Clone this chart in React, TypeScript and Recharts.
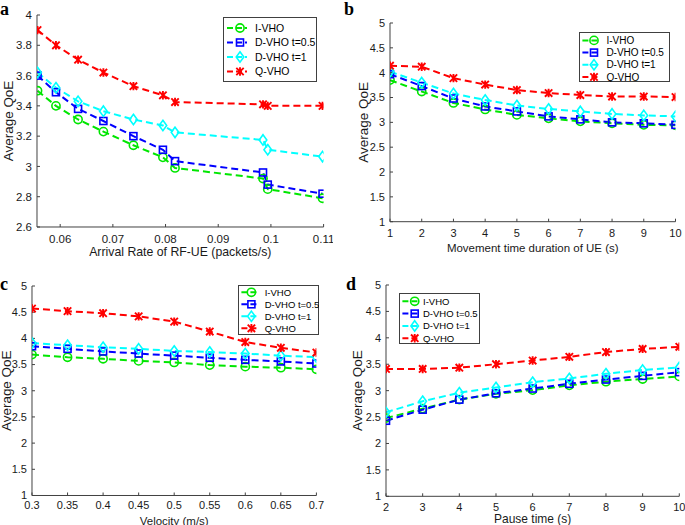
import React from "react";
import { LineChart, Line, XAxis, YAxis, Legend } from "recharts";

// (a) arrival rate of RF-UE
const arrivalRate = [0.0557, 0.0592, 0.0634, 0.0682, 0.0739, 0.0795, 0.0818, 0.0985, 0.0994, 0.1098];
const arrivalIVHO = [3.5, 3.4, 3.31, 3.23, 3.14, 3.06, 2.99, 2.92, 2.85, 2.79];
const arrivalDVHO05 = [3.6, 3.49, 3.38, 3.3, 3.2, 3.11, 3.035, 2.96, 2.88, 2.82];
const arrivalDVHO1 = [3.62, 3.52, 3.43, 3.365, 3.31, 3.27, 3.225, 3.175, 3.11, 3.065];
const arrivalQVHO = [3.9, 3.8, 3.705, 3.62, 3.53, 3.47, 3.425, 3.41, 3.4, 3.4];
const arrivalTicks = [0.06, 0.07, 0.08, 0.09, 0.1, 0.11];
const arrivalQoETicks = [2.6, 2.8, 3, 3.2, 3.4, 3.6, 3.8, 4];

// (b) movement time duration
const moveTime = [1, 2, 3, 4, 5, 6, 7, 8, 9, 10];
const moveIVHO = [3.85, 3.62, 3.39, 3.26, 3.15, 3.08, 3.02, 2.98, 2.95, 2.94];
const moveDVHO05 = [3.97, 3.73, 3.48, 3.32, 3.22, 3.12, 3.06, 3.0, 2.98, 2.95];
const moveDVHO1 = [4.02, 3.8, 3.58, 3.45, 3.34, 3.27, 3.22, 3.17, 3.14, 3.12];
const moveQVHO = [4.14, 4.12, 3.89, 3.76, 3.65, 3.59, 3.55, 3.52, 3.52, 3.51];

// (c) velocity
const velocity = [0.3, 0.35, 0.4, 0.45, 0.5, 0.55, 0.6, 0.65, 0.7];
const velIVHO = [3.69, 3.64, 3.61, 3.57, 3.54, 3.49, 3.46, 3.44, 3.41];
const velDVHO05 = [3.85, 3.8, 3.75, 3.71, 3.67, 3.63, 3.59, 3.56, 3.52];
const velDVHO1 = [3.91, 3.87, 3.83, 3.8, 3.76, 3.74, 3.71, 3.67, 3.64];
const velQVHO = [4.57, 4.52, 4.48, 4.42, 4.32, 4.13, 3.93, 3.82, 3.73];

// (d) pause time
const pauseTime = [2, 3, 4, 5, 6, 7, 8, 9, 10];
const pauseIVHO = [2.48, 2.66, 2.83, 2.94, 3.01, 3.1, 3.17, 3.22, 3.27];
const pauseDVHO05 = [2.43, 2.64, 2.83, 2.95, 3.04, 3.13, 3.21, 3.28, 3.35];
const pauseDVHO1 = [2.59, 2.8, 2.96, 3.06, 3.16, 3.23, 3.32, 3.39, 3.44];
const pauseQVHO = [3.41, 3.41, 3.435, 3.5, 3.57, 3.64, 3.73, 3.79, 3.83];

const qoeTicks = [1, 1.5, 2, 2.5, 3, 3.5, 4, 4.5, 5];
const seriesNames = ["I-VHO", "D-VHO t=0.5", "D-VHO t=1", "Q-VHO"];

const FONT = '"Liberation Sans", Arial, Helvetica, sans-serif';
const AXIS = "#404040";
const TEXT = "#1a1a1a";

const styles = [
  { color: "#00e600", marker: "circle" },
  { color: "#0000ff", marker: "square" },
  { color: "#00ffff", marker: "diamond" },
  { color: "#ff0000", marker: "star" },
];

function toRows(xs: number[], ys: number[][]) {
  return xs.map((x, i) => ({ x, s0: ys[0][i], s1: ys[1][i], s2: ys[2][i], s3: ys[3][i] }));
}

function Marker({ kind, x, y, color }: { kind: string; x: number; y: number; color: string }) {
  const sw = 1.6;
  if (kind === "circle") return <circle cx={x} cy={y} r={4.1} fill="none" stroke={color} strokeWidth={sw} />;
  if (kind === "square")
    return <rect x={x - 3.5} y={y - 3.5} width={7} height={7} fill="none" stroke={color} strokeWidth={sw} />;
  if (kind === "diamond")
    return (
      <path
        d={`M${x} ${y - 5.2}L${x + 3.8} ${y}L${x} ${y + 5.2}L${x - 3.8} ${y}Z`}
        fill="none"
        stroke={color}
        strokeWidth={sw}
      />
    );
  return (
    <path
      d={`M${x - 3.7} ${y - 3.7}L${x + 3.7} ${y + 3.7}M${x - 3.7} ${y + 3.7}L${x + 3.7} ${y - 3.7}M${x} ${y - 4.2}L${x} ${y + 4.2}`}
      stroke={color}
      strokeWidth={1.9}
    />
  );
}

type LegendCfg = { x: number; y: number; w: number; h: number; row0: number; step: number; line: [number, number]; mark: number; text: number; fs: number };

function LegendBox({ cfg }: { cfg: LegendCfg }) {
  return (
    <svg width={cfg.w} height={cfg.h} style={{ display: "block" }}>
      <rect x={0.5} y={0.5} width={cfg.w - 1} height={cfg.h - 1} fill="#fff" stroke={AXIS} strokeWidth={1} />
      {styles.map((s, i) => {
        const y = cfg.row0 + i * cfg.step;
        return (
          <g key={i}>
            <line x1={cfg.line[0]} x2={cfg.line[1]} y1={y} y2={y} stroke={s.color} strokeWidth={2} strokeDasharray="6 3" />
            <Marker kind={s.marker} x={cfg.mark} y={y} color={s.color} />
            <text x={cfg.text} y={y} dy="0.36em" fontSize={cfg.fs} fill="#000" fontFamily={FONT}>
              {seriesNames[i]}
            </text>
          </g>
        );
      })}
    </svg>
  );
}

type PanelCfg = {
  letter: string;
  letterX: number;
  letterY: number;
  rows: any[];
  xDomain: [number, number];
  xTicks: number[];
  yDomain: [number, number];
  yTicks: number[];
  xTitle: string;
  box: { x0: number; x1: number; y0: number; y1: number };
  tickGap: number;
  titleGap: number;
  yTitleX: number;
  tickFs: number;
  titleFs: number;
  yTitleFs: number;
  legend: LegendCfg;
};

const panels: PanelCfg[] = [
  {
    letter: "a",
    letterX: 0,
    letterY: 0,
    rows: toRows(arrivalRate, [arrivalIVHO, arrivalDVHO05, arrivalDVHO1, arrivalQVHO]),
    xDomain: [0.0556, 0.11],
    xTicks: arrivalTicks,
    yDomain: [2.6, 4],
    yTicks: arrivalQoETicks,
    xTitle: "Arrival Rate of RF-UE (packets/s)",
    box: { x0: 36.7, x1: 323.3, y0: 15, y1: 227 },
    tickGap: 12.3,
    titleGap: 24.7,
    yTitleX: 8,
    tickFs: 11.5,
    titleFs: 12.3,
    yTitleFs: 13.5,
    legend: { x: 223, y: 17, w: 94, h: 65, row0: 11, step: 14.5, line: [4, 24], mark: 17, text: 32, fs: 10.5 },
  },
  {
    letter: "b",
    letterX: 344,
    letterY: 0,
    rows: toRows(moveTime, [moveIVHO, moveDVHO05, moveDVHO1, moveQVHO]),
    xDomain: [1, 10],
    xTicks: moveTime,
    yDomain: [1, 5],
    yTicks: qoeTicks,
    xTitle: "Movement time duration of UE (s)",
    box: { x0: 389.5, x1: 675, y0: 23, y1: 221.7 },
    tickGap: 11.5,
    titleGap: 26.5,
    yTitleX: 362.7,
    tickFs: 11,
    titleFs: 11.5,
    yTitleFs: 13.5,
    legend: { x: 579, y: 32, w: 91, h: 50, row0: 8.4, step: 12.2, line: [3.4, 19], mark: 15, text: 27.4, fs: 10 },
  },
  {
    letter: "c",
    letterX: 0,
    letterY: 275,
    rows: toRows(velocity, [velIVHO, velDVHO05, velDVHO1, velQVHO]),
    xDomain: [0.3, 0.7],
    xTicks: velocity,
    yDomain: [1, 5],
    yTicks: qoeTicks,
    xTitle: "Velocity (m/s)",
    box: { x0: 32.3, x1: 316.7, y0: 285.5, y1: 495 },
    tickGap: 10,
    titleGap: 25,
    yTitleX: 7,
    tickFs: 11,
    titleFs: 11.5,
    yTitleFs: 13.5,
    legend: { x: 238.3, y: 284.7, w: 81, h: 50, row0: 7.3, step: 12, line: [3.4, 18.4], mark: 13.4, text: 26.7, fs: 9.5 },
  },
  {
    letter: "d",
    letterX: 346,
    letterY: 275,
    rows: toRows(pauseTime, [pauseIVHO, pauseDVHO05, pauseDVHO1, pauseQVHO]),
    xDomain: [2, 10],
    xTicks: pauseTime,
    yDomain: [1, 5],
    yTicks: qoeTicks,
    xTitle: "Pause time (s)",
    box: { x0: 385.7, x1: 679, y0: 284.7, y1: 496 },
    tickGap: 11,
    titleGap: 22.5,
    yTitleX: 356.7,
    tickFs: 11,
    titleFs: 12,
    yTitleFs: 13.5,
    legend: { x: 399.3, y: 292.7, w: 81, h: 51, row0: 8.3, step: 12.3, line: [3.4, 19], mark: 15.7, text: 24, fs: 9.5 },
  },
];

function Panel({ p }: { p: PanelCfg }) {
  const YW = 40;
  const XH = 42;
  const MT = 10;
  const MR = 10;
  const left = p.box.x0 - YW;
  const top = p.box.y0 - MT;
  const W = YW + (p.box.x1 - p.box.x0) + MR;
  const H = MT + (p.box.y1 - p.box.y0) + XH;
  const capHalf = 0.355;
  const xTickMargin = p.tickGap + 3 - capHalf * p.tickFs;
  const xLabelOffset = XH - (p.titleGap + capHalf * p.titleFs);
  const fmt = (v: number) => String(v);
  const blank = () => "";

  return (
    <>
      <div
        style={{
          position: "absolute",
          left: p.letterX,
          top: p.letterY,
          fontFamily: '"Liberation Serif", "Times New Roman", serif',
          fontWeight: "bold",
          fontSize: 18,
          lineHeight: "18px",
          color: "#000",
        }}
      >
        {p.letter}
      </div>
      <div style={{ position: "absolute", left, top }}>
        <LineChart width={W} height={H} data={p.rows} margin={{ top: MT, right: MR, bottom: 0, left: 0 }}>
          <XAxis
            dataKey="x"
            type="number"
            domain={p.xDomain}
            ticks={p.xTicks}
            interval={0}
            allowDataOverflow
            height={XH}
            tickSize={-3}
            tickMargin={xTickMargin}
            stroke={AXIS}
            tick={{ fill: TEXT, fontSize: p.tickFs }}
            tickFormatter={fmt}
            label={{ value: p.xTitle, position: "insideBottom", offset: xLabelOffset, fill: TEXT, fontSize: p.titleFs }}
          />
          <XAxis
            xAxisId="top"
            orientation="top"
            dataKey="x"
            type="number"
            domain={p.xDomain}
            ticks={p.xTicks}
            interval={0}
            allowDataOverflow
            height={0}
            tickSize={-3}
            stroke={AXIS}
            tickFormatter={blank}
          />
          <YAxis
            type="number"
            domain={p.yDomain}
            ticks={p.yTicks}
            interval={0}
            allowDataOverflow
            width={YW}
            tickSize={-3}
            tickMargin={8}
            stroke={AXIS}
            tick={{ fill: TEXT, fontSize: p.tickFs }}
            tickFormatter={fmt}
            label={{
              value: "Average QoE",
              angle: -90,
              position: "insideLeft",
              offset: p.yTitleX - left,
              style: { textAnchor: "middle" },
              fill: TEXT,
              fontSize: p.yTitleFs,
            }}
          />
          <YAxis
            yAxisId="right"
            orientation="right"
            type="number"
            domain={p.yDomain}
            ticks={p.yTicks}
            interval={0}
            allowDataOverflow
            width={0}
            tickSize={-3}
            stroke={AXIS}
            tickFormatter={blank}
          />
          <Legend
            layout="vertical"
            align="center"
            verticalAlign="middle"
            wrapperStyle={{ left: p.legend.x - left, top: p.legend.y - top, width: p.legend.w, height: p.legend.h }}
            content={() => <LegendBox cfg={p.legend} />}
          />
          {styles.map((s, i) => (
            <Line
              key={i}
              dataKey={`s${i}`}
              name={seriesNames[i]}
              type="linear"
              stroke={s.color}
              strokeWidth={2}
              strokeDasharray="7 4"
              isAnimationActive={false}
              dot={(d: any) => <Marker key={`m${i}-${d.index}`} kind={s.marker} x={d.cx} y={d.cy} color={s.color} />}
              activeDot={false}
            />
          ))}
        </LineChart>
      </div>
    </>
  );
}

export default function App() {
  return (
    <div
      style={{
        position: "absolute",
        left: 0,
        top: 0,
        width: 685,
        height: 525,
        overflow: "hidden",
        background: "#fff",
        fontFamily: FONT,
      }}
    >
      {panels.map((p) => (
        <Panel key={p.letter} p={p} />
      ))}
    </div>
  );
}
